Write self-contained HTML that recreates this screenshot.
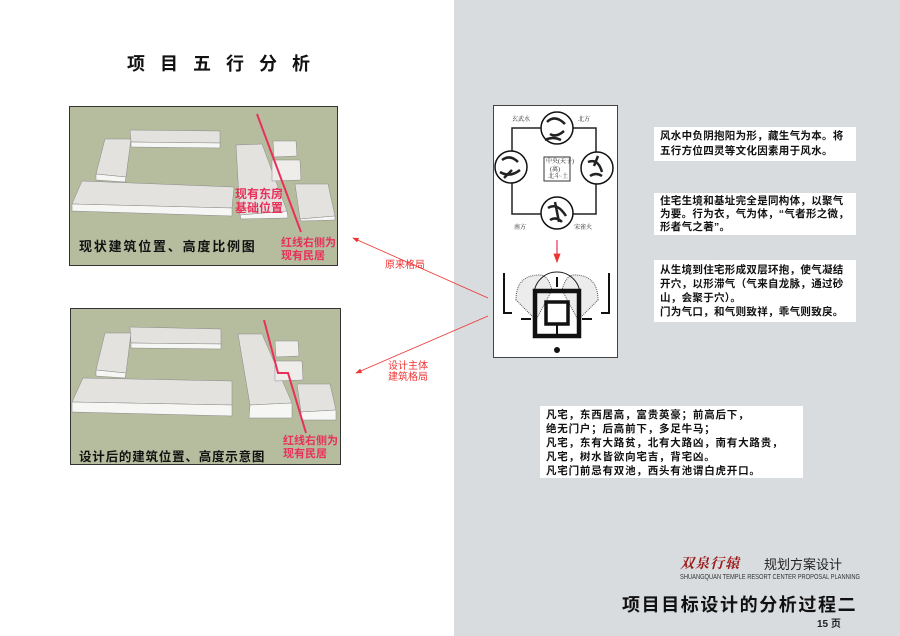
<!DOCTYPE html>
<html><head><meta charset="utf-8"><style>
body{margin:0;width:900px;height:636px;overflow:hidden;background:#fff;font-family:"Liberation Sans","Noto Sans CJK SC",sans-serif;}
.abs{position:absolute}
.tb{position:absolute;background:#fff;font-size:10.5px;color:#111;font-weight:bold;padding:3px 6px;box-sizing:border-box;letter-spacing:0.3px;white-space:nowrap}
</style></head><body>
<div class="abs" style="left:454px;top:0;width:446px;height:636px;background:#d9dcdf"></div>
<div class="abs" style="left:127px;top:50px;font-size:18px;font-weight:bold;letter-spacing:15px;color:#111">项目五行分析</div>
<svg class="abs" style="left:0;top:0" width="900" height="636">
<defs><marker id="ar" markerWidth="8" markerHeight="6" refX="7" refY="3" orient="auto"><path d="M0,0L8,3L0,6z" fill="#e33"/></marker></defs>
<rect x="69.5" y="106.5" width="268" height="159" fill="#b6bd9f" stroke="#333"/>
<g stroke="#888" stroke-width="0.5">
<polygon points="130,130 220,131 220,143 131,142" fill="#e3e2df"/><polygon points="131,142 220,143 220,148 131,147" fill="#f6f6f4"/>
<polygon points="105,139 131,139 126,177 96,174" fill="#e3e2df"/><polygon points="96,174 126,177 125,182 96,180" fill="#f6f6f4"/>
<polygon points="82,181 234,187 232,208 72,204" fill="#e3e2df"/><polygon points="72,204 232,208 232,216 72,211" fill="#f6f6f4"/>
<polygon points="236,145 262,144 287,211 240,215" fill="#e3e2df"/><polygon points="240,215 287,211 288,218 241,219" fill="#f6f6f4"/>
<polygon points="273,141 296,141 297,156 274,157" fill="#eeedea"/><polygon points="272,160 300,160 301,180 272,181" fill="#eeedea"/>
<polygon points="295,184 328,184 335,216 300,219" fill="#e3e2df"/><polygon points="300,219 335,216 335,220 301,221" fill="#f6f6f4"/>
</g>
<line x1="257" y1="114" x2="301" y2="232" stroke="#e8305a" stroke-width="2"/>
<rect x="70.5" y="308.5" width="270" height="156" fill="#b6bd9f" stroke="#333"/>
<g stroke="#888" stroke-width="0.5">
<polygon points="130,327 221,329 221,344 131,343" fill="#e3e2df"/><polygon points="131,343 221,344 221,349 131,348" fill="#f6f6f4"/>
<polygon points="105,333 131,333 126,373 96,370" fill="#e3e2df"/><polygon points="96,370 126,373 125,378 96,376" fill="#f6f6f4"/>
<polygon points="83,378 232,381 232,405 72,402" fill="#e3e2df"/><polygon points="72,402 232,405 232,416 72,412" fill="#f6f6f4"/>
<polygon points="238,334 262,334 292,403 250,405" fill="#e3e2df"/><polygon points="250,405 292,403 292,418 249,418" fill="#f6f6f4"/>
<polygon points="275,341 298,341 299,356 276,357" fill="#eeedea"/><polygon points="275,361 302,361 303,380 275,381" fill="#eeedea"/>
<polygon points="297,384 330,384 336,410 301,412" fill="#e3e2df"/><polygon points="301,412 336,410 336,420 301,420" fill="#f6f6f4"/>
</g>
<polyline points="264,320 278,373 288,373 306,433" fill="none" stroke="#e8305a" stroke-width="2"/>
<line x1="488" y1="298" x2="353" y2="238" stroke="#e33" stroke-width="0.8" marker-end="url(#ar)"/>
<line x1="488" y1="316" x2="356" y2="373" stroke="#e33" stroke-width="0.8" marker-end="url(#ar)"/>
<rect x="493.5" y="105.5" width="124" height="252" fill="#fff" stroke="#444"/>
<rect x="512" y="128" width="84" height="86" fill="none" stroke="#222" stroke-width="1.5"/>
<g fill="#fff" stroke="#111" stroke-width="1.5">
<circle cx="557" cy="128" r="16"/><circle cx="511" cy="167" r="16"/><circle cx="597" cy="168" r="16"/><circle cx="557" cy="213" r="16"/></g>
<g stroke="#222" stroke-width="2.5" fill="none">
<path d="M547,122q8,-8 18,2M550,134q6,4 14,-3M545,140q8,-4 16,0M502,160q8,-6 16,2M500,172q10,6 20,-2M504,178l8,-8M588,162q10,-4 14,10M590,176q6,-4 12,0M598,156l-4,10M548,208q9,-6 18,8M550,220q6,-4 12,2M555,202l4,20"/></g>
<rect x="544" y="157" width="26" height="24" fill="none" stroke="#333"/>
<g font-size="6" fill="#222" font-family="Liberation Serif,Noto Serif CJK SC,serif">
<text x="512" y="121">玄武水</text><text x="578" y="121">北方</text><text x="514" y="229">南方</text><text x="574" y="229">宋雀火</text>
<text x="546" y="163">中央(天子)</text><text x="550" y="171">(离)</text><text x="548" y="178">北斗·土</text></g>
<line x1="557" y1="240" x2="557" y2="262" stroke="#e8305a" stroke-width="1.2" marker-end="url(#ar)"/>
<path d="M516,300q0,-25 24,-25q8,0 12,15l-16,30z" fill="#ececec" stroke="#555" stroke-dasharray="1 1"/>
<path d="M598,300q0,-25 -24,-25q-8,0 -12,15l16,30z" fill="#ececec" stroke="#555" stroke-dasharray="1 1"/>
<path d="M534,295a23,23 0 0 1 46,0" fill="none" stroke="#222"/>
<rect x="535" y="291" width="44" height="45" fill="none" stroke="#111" stroke-width="4.5"/>
<rect x="546" y="302" width="22" height="22" fill="none" stroke="#111" stroke-width="3.5"/>
<g stroke="#111" stroke-width="2" fill="none"><path d="M504,273v40h8M609,273v40h-8M521,319h10M592,319h-10M557,277v10M557,324v14"/></g>
<circle cx="557" cy="350" r="3" fill="#111"/>
</svg>
<div class="abs" style="left:235px;top:187px;color:#e8305a;font-weight:bold;font-size:12px;line-height:14px">现有东房<br>基础位置</div>
<div class="abs" style="left:79px;top:236px;font-weight:bold;font-size:13px;letter-spacing:1.8px;color:#111">现状建筑位置、高度比例图</div>
<div class="abs" style="left:281px;top:237px;color:#e8305a;font-weight:bold;font-size:11px;line-height:13px">红线右侧为<br>现有民居</div>
<div class="abs" style="left:79px;top:446px;font-weight:bold;font-size:12.5px;letter-spacing:0.8px;color:#111">设计后的建筑位置、高度示意图</div>
<div class="abs" style="left:283px;top:435px;color:#e8305a;font-weight:bold;font-size:11px;line-height:13px">红线右侧为<br>现有民居</div>
<div class="abs" style="left:385px;top:256px;color:#e33;font-size:10px">原来格局</div>
<div class="abs" style="left:388px;top:361px;color:#e33;font-size:10px;line-height:11px">设计主体<br>建筑格局</div>
<div class="tb" style="left:654px;top:127px;width:202px;height:34px;line-height:15px;padding-top:2px">风水中负阴抱阳为形，藏生气为本。将<br>五行方位四灵等文化因素用于风水。</div>
<div class="tb" style="left:654px;top:193px;width:202px;height:42px;line-height:13px;padding-top:2px">住宅生境和基址完全是同构体，以聚气<br>为要。行为衣，气为体，“气者形之微，<br>形者气之著”。</div>
<div class="tb" style="left:654px;top:260px;width:202px;height:62px;line-height:14px;padding-top:3px">从生境到住宅形成双层环抱，使气凝结<br>开穴，以形滞气（气来自龙脉，通过砂<br>山，会聚于穴）。<br>门为气口，和气则致祥，乖气则致戾。</div>
<div class="tb" style="left:540px;top:406px;width:263px;height:72px;line-height:14px;padding-top:2px;font-size:10.5px;letter-spacing:0.8px">凡宅，东西居高，富贵英豪；前高后下，<br>绝无门户；后高前下，多足牛马；<br>凡宅，东有大路贫，北有大路凶，南有大路贵，<br>凡宅，树水皆欲向宅吉，背宅凶。<br>凡宅门前忌有双池，西头有池谓白虎开口。</div>
<div class="abs" style="left:680px;top:553px;color:#9a1a1a;font-size:14px;font-style:italic;font-weight:bold;letter-spacing:1px;font-family:'Noto Serif CJK SC',serif">双泉行辕</div>
<div class="abs" style="left:764px;top:554px;font-size:13px;color:#222">规划方案设计</div>
<div class="abs" style="left:680px;top:574px;font-size:7px;color:#333;transform:scaleX(0.82);transform-origin:left">SHUANGQUAN TEMPLE RESORT CENTER PROPOSAL PLANNING</div>
<div class="abs" style="left:622px;top:591px;font-size:18px;font-weight:bold;color:#111;letter-spacing:1.6px">项目目标设计的分析过程二</div>
<div class="abs" style="left:817px;top:615px;font-size:10px;font-weight:bold;color:#222">15 页</div>
</body></html>
